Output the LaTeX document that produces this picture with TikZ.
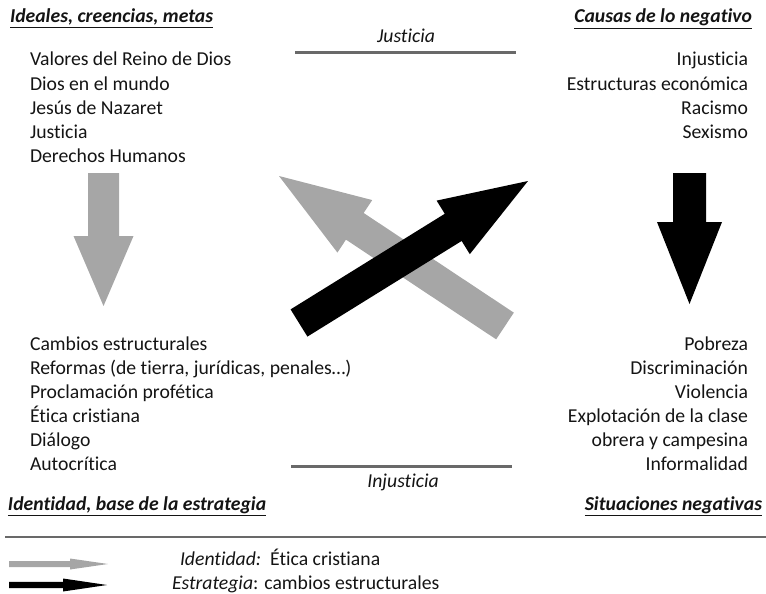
\documentclass[tikz,border=0pt]{standalone}
\usepackage{fontspec}
\setmainfont{Carlito}[Ligatures={NoCommon,NoContextual}]
\usetikzlibrary{calc}
\definecolor{arrgray}{RGB}{166,166,166}
\definecolor{lngray}{RGB}{105,105,105}
\definecolor{txt}{RGB}{20,20,20}
% block arrow: tail, tip, half shaft, half head, head length, colour
\newcommand\blockarrow[6]{%
  \coordinate (#1b) at ($(#2)!#5!(#1)$);
  \fill[#6] ($(#1)!#3!90:(#2)$) -- ($(#1b)!#3!90:(#2)$) -- ($(#1b)!#4!90:(#2)$)
     -- (#2) -- ($(#1b)!#4!-90:(#2)$) -- ($(#1b)!#3!-90:(#2)$) -- ($(#1)!#3!-90:(#2)$) -- cycle;}
\begin{document}
\begin{tikzpicture}[x=1pt,y=-1pt,
  every node/.style={inner sep=0pt, outer sep=0pt, font=\fontsize{19.7}{24}\selectfont, text=txt},
  lw/.style={anchor=base west},
  le/.style={anchor=base east},
  heading/.style={font=\fontsize{19.7}{24}\selectfont\bfseries\itshape},
  rule/.style={draw=lngray, line width=3pt}]
\useasboundingbox (0,0) rectangle (766,594);
% headings
\node[lw,heading] (hA) at (10,23) {\underline{Ideales, creencias, metas}};
\node[le,heading] (hB) at (752,23) {\underline{Causas de lo negativo}};
\node[lw,heading] (hC) at (8,510) {\underline{Identidad, base de la estrategia}};
\node[le,heading] (hD) at (762,510) {\underline{Situaciones negativas}};
% top-left list
\node[lw] (a1) at (30,66) {Valores del Reino de Dios};
\node[lw] (a2) at (30,90) {Dios en el mundo};
\node[lw] (a3) at (30,114) {Jesús de Nazaret};
\node[lw] (a4) at (30,138) {Justicia};
\node[lw] (a5) at (30,162) {Derechos Humanos};
% top-right list
\node[le] (b1) at (748,66) {Injusticia};
\node[le] (b2) at (748,90) {Estructuras económica};
\node[le] (b3) at (748,114) {Racismo};
\node[le] (b4) at (748,138) {Sexismo};
% bottom-left list
\node[lw] (c1) at (30,350) {Cambios estructurales};
\node[lw] (c2) at (30,374) {Reformas (de tierra, jurídicas, penales…)};
\node[lw] (c3) at (30,398) {Proclamación profética};
\node[lw] (c4) at (30,422) {Ética cristiana};
\node[lw] (c5) at (30,446) {Diálogo};
\node[lw] (c6) at (30,470) {Autocrítica};
% bottom-right list
\node[le] (d1) at (748,350) {Pobreza};
\node[le] (d2) at (748,374) {Discriminación};
\node[le] (d3) at (748,398) {Violencia};
\node[le] (d4) at (748,422) {Explotación de la clase};
\node[le] (d5) at (748,446) {obrera y campesina};
\node[le] (d6) at (748,470) {Informalidad};
% justicia / injusticia
\node[font=\fontsize{19.7}{24}\selectfont\itshape] (jus) at (406,36) {Justicia};
\coordinate (j1) at (295,53); \coordinate (j2) at (516,53);
\draw[rule] (j1) -- (j2);
\coordinate (i1) at (291,466); \coordinate (i2) at (512,466);
\draw[rule] (i1) -- (i2);
\node[font=\fontsize{19.7}{24}\selectfont\itshape] (inj) at (403,482) {Injusticia};
% vertical arrows
\coordinate (ga) at (103.5,173); \coordinate (gb) at (103.5,306);
\blockarrow{ga}{gb}{15.5pt}{30pt}{70pt}{arrgray}
\coordinate (ka) at (689.5,173); \coordinate (kb) at (689.5,304);
\blockarrow{ka}{kb}{16.5pt}{32.5pt}{82pt}{black}
% crossing arrows
\coordinate (xa) at (505,326); \coordinate (xb) at (279,176);
\blockarrow{xa}{xb}{16pt}{31.5pt}{91pt}{arrgray}
\coordinate (ya) at (299,323); \coordinate (yb) at (528,181);
\blockarrow{ya}{yb}{16pt}{31.5pt}{88pt}{black}
% separator
\coordinate (s1) at (5,537); \coordinate (s2) at (766,537);
\draw[draw=lngray, line width=2pt] (s1) -- (s2);
% legend
\coordinate (la) at (9,564); \coordinate (lb) at (108,564);
\blockarrow{la}{lb}{3pt}{5.5pt}{38pt}{arrgray}
\coordinate (ma) at (9,585); \coordinate (mb) at (107,585);
\blockarrow{ma}{mb}{3.2pt}{6.5pt}{44pt}{black}
\node[lw] (t1) at (180,565) {\textit{Identidad:}\ \ Ética cristiana};
\node[lw] (t2) at (172,589) {\textit{Estrategia}: cambios estructurales};
\end{tikzpicture}
\end{document}
